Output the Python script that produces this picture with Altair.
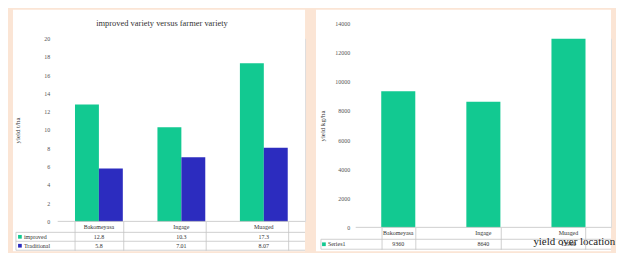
import altair as alt
import pandas as pd

# ---------------- data ----------------
categories = ["Bakomeyasa", "Ingage", "Muaged"]
series_names = ["improved", "Traditional"]
improved = [12.8, 10.3, 17.3]
traditional = [5.8, 7.01, 8.07]
location_series = "Series1"
location_yield = [9360, 8640, 12960]
left_ticks = list(range(0, 21, 2))
right_ticks = list(range(0, 14001, 2000))

# ---------------- style ----------------
GREEN = "#12c991"
BLUE = "#2c2cbf"
BG = "#fbe5d5"
GRID = "#c4c4c4"
FONT = "Liberation Serif"
TXT = "#333333"

LW, LH = 249, 184
RW, RH = 257, 190      # right plot: origin aligned with left plot, range extends 15px above
R_TOP = -15

one = pd.DataFrame({"a": [0]})


def rect(x1, x2, y1, y2):
    return alt.Chart(one).mark_rect(fill="white").encode(
        x=alt.value(x1), x2=alt.value(x2), y=alt.value(y1), y2=alt.value(y2))


def hline(x1, x2, y):
    return alt.Chart(one).mark_rule(color=GRID, strokeWidth=0.8).encode(
        x=alt.value(x1), x2=alt.value(x2), y=alt.value(y))


def vline(x, y1, y2):
    return alt.Chart(one).mark_rule(color=GRID, strokeWidth=0.8).encode(
        x=alt.value(x), y=alt.value(y1), y2=alt.value(y2))


def label(text, x, y, size=6, align="left", color=TXT):
    return alt.Chart(pd.DataFrame({"t": [text]})).mark_text(
        align=align, baseline="middle", fontSize=size, color=color, font=FONT
    ).encode(x=alt.value(x), y=alt.value(y), text="t:N")


def swatch(x, y, color):
    return alt.Chart(one).mark_square(size=14, color=color, opacity=1).encode(
        x=alt.value(x), y=alt.value(y))


# ---------------- left chart ----------------
long_df = pd.DataFrame(
    [{"cat": c, "series": series_names[0], "value": v} for c, v in zip(categories, improved)]
    + [{"cat": c, "series": series_names[1], "value": v} for c, v in zip(categories, traditional)]
)
wide_df = pd.DataFrame({"cat": categories,
                        "imp": [f"{v:g}" for v in improved],
                        "trad": [f"{v:g}" for v in traditional]})

xL = alt.X("cat:N", sort=categories,
           scale=alt.Scale(paddingInner=0.42, paddingOuter=0.21),
           axis=alt.Axis(title=None, labels=False, domain=False, ticks=True,
                         tickBand="extent", tickSize=29, tickColor=GRID,
                         tickWidth=0.8, zindex=1))
yL = alt.Y("value:Q", scale=alt.Scale(domain=[0, 20]),
           axis=alt.Axis(values=left_ticks, domain=False, ticks=False, grid=False,
                         labelFontSize=6, labelColor="#555", labelPadding=8,
                         title="yield t/ha", titleFontSize=7, titleFontWeight="normal",
                         titleColor=TXT, titleX=-37, titleY=LH / 2, zindex=1))

bars_left = alt.Chart(long_df).mark_bar().encode(
    x=xL, y=yL,
    xOffset=alt.XOffset("series:N", sort=series_names,
                        scale=alt.Scale(paddingInner=0, paddingOuter=0)),
    color=alt.Color("series:N", sort=series_names,
                    scale=alt.Scale(domain=series_names, range=[GREEN, BLUE]),
                    legend=None),
)


def table_text(df, field, y, size=6):
    return alt.Chart(df).mark_text(fontSize=size, color=TXT, font=FONT, baseline="middle").encode(
        x=alt.X("cat:N", sort=categories), y=alt.value(y), text=f"{field}:N")


left = alt.layer(
    rect(-45, LW, -29, LH + 30),
    bars_left,
    hline(0, LW, LH),
    hline(-42, LW, LH + 11),
    hline(-42, LW, LH + 20),
    hline(-42, LW, LH + 29),
    vline(-42, LH + 11, LH + 29),
    table_text(wide_df, "cat", LH + 6),
    table_text(wide_df, "imp", LH + 15.5),
    table_text(wide_df, "trad", LH + 24.5),
    swatch(-38, LH + 15.5, GREEN),
    label("improved", -34, LH + 15.5),
    swatch(-38, LH + 24.5, BLUE),
    label("Traditional", -34, LH + 24.5),
    label("improved variety versus farmer variety", 105, -16, size=8.5, align="center"),
).properties(width=LW, height=LH)

# ---------------- right chart ----------------
right_df = pd.DataFrame({"cat": categories, "value": location_yield,
                         "txt": [str(v) for v in location_yield]})

xR = alt.X("cat:N", sort=categories,
           scale=alt.Scale(paddingInner=0.6, paddingOuter=0.3),
           axis=alt.Axis(title=None, labels=False, domain=False, ticks=True,
                         tickBand="extent", tickSize=22, tickColor=GRID,
                         tickWidth=0.8, zindex=1))
yR = alt.Y("value:Q", scale=alt.Scale(domain=[0, 14000], range=[RH, R_TOP]),
           axis=alt.Axis(values=right_ticks, format="d", domain=False, ticks=False, grid=False,
                         labelFontSize=6, labelColor="#555", labelPadding=6,
                         title="yield kg/ha", titleFontSize=7, titleFontWeight="normal",
                         titleColor=TXT, titleX=-30, titleY=(RH + R_TOP) / 2, zindex=1))

bars_right = alt.Chart(right_df).mark_bar(color=GREEN).encode(x=xR, y=yR)

right = alt.layer(
    rect(-40, RW, -29, RH + 24),
    bars_right,
    hline(0, RW, RH),
    hline(-35, RW, RH + 12),
    hline(-35, RW, RH + 22),
    vline(-35, RH + 12, RH + 22),
    table_text(right_df, "cat", RH + 6),
    table_text(right_df, "txt", RH + 17),
    swatch(-32, RH + 17, GREEN),
    label(location_series, -28, RH + 17),
    label("yield over location", 220, RH + 15, size=11, align="center", color="#222"),
).properties(width=RW, height=RH)

chart = alt.hconcat(left, right, spacing=9).properties(
    background=BG,
    padding={"left": 4, "top": 0, "right": 0, "bottom": 0},
).configure_view(stroke=None).configure(font=FONT)

chart.save("out.html", embed_options={"renderer": "svg", "actions": False})
